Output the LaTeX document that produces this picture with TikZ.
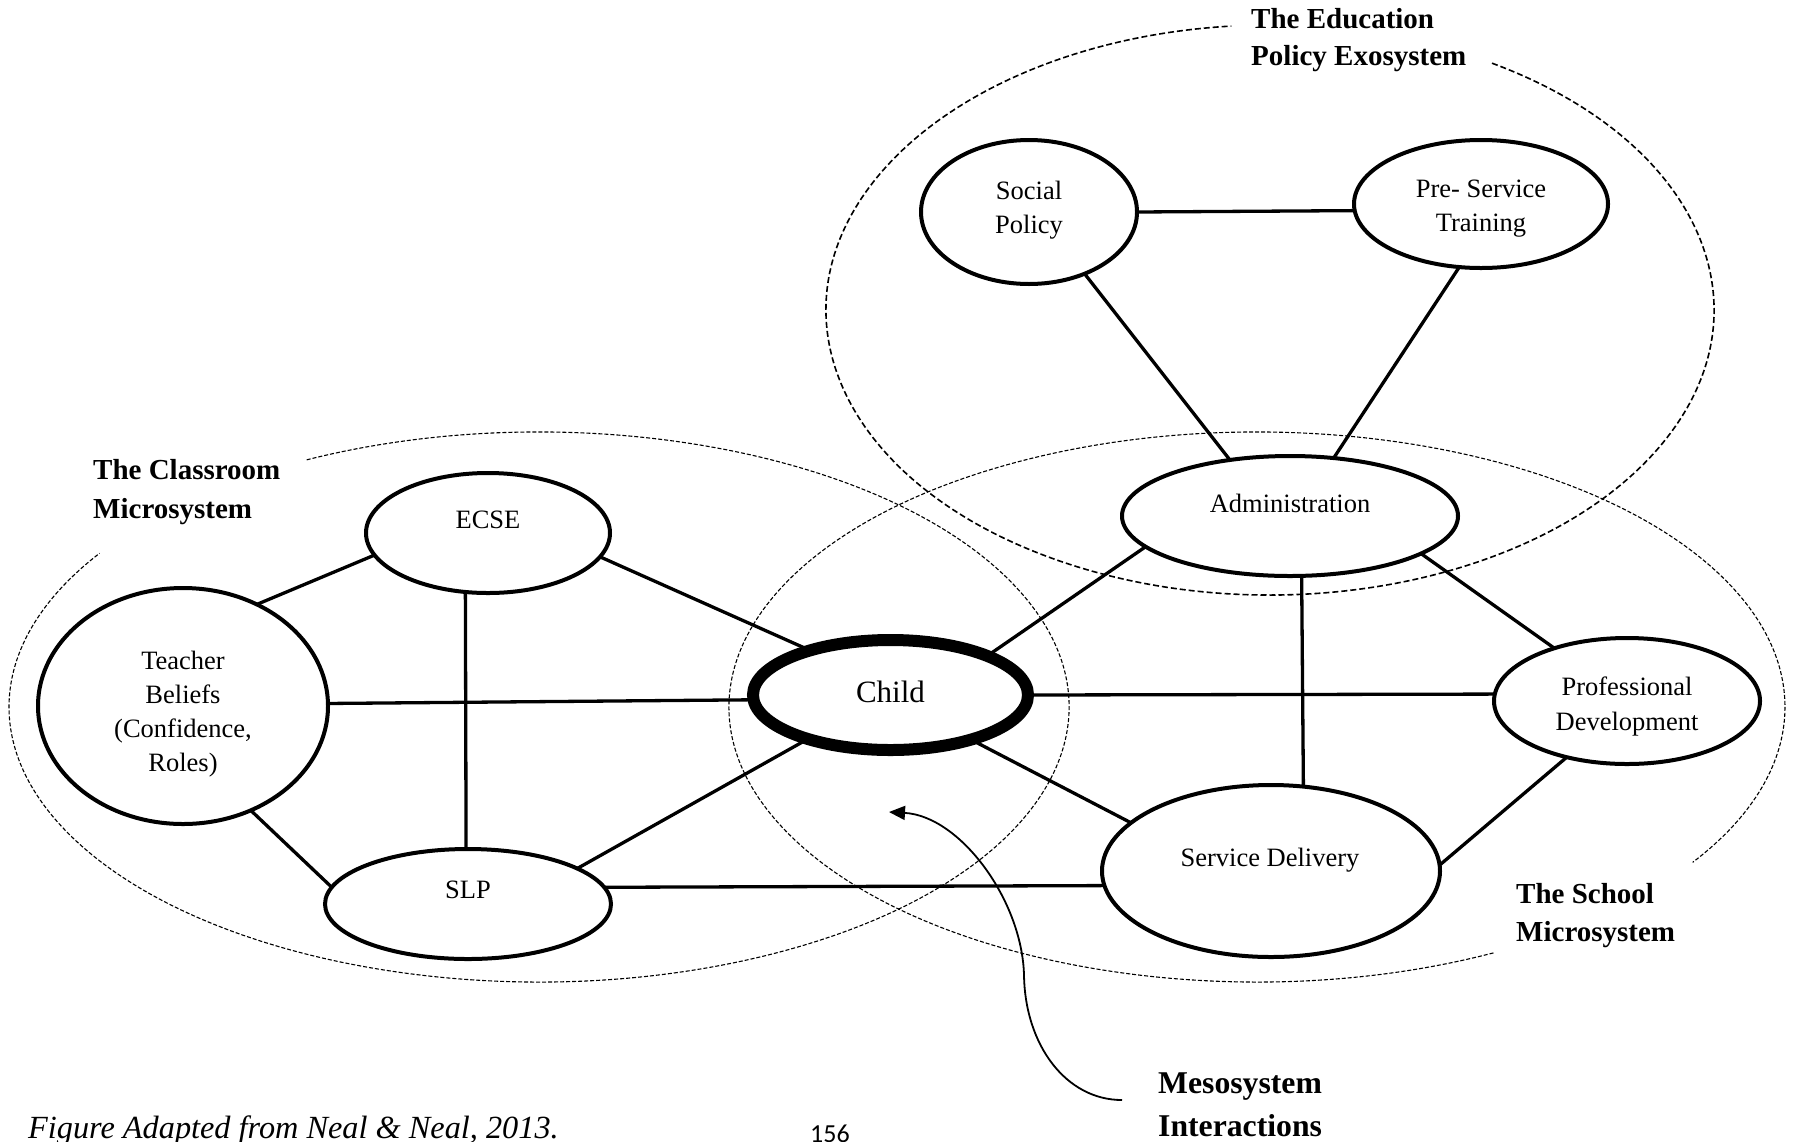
\documentclass[tikz,border=0pt]{standalone}
\usepackage{fontspec}
\setmainfont{Liberation Serif}
\newfontfamily\pagenumfont{Carlito}
\usetikzlibrary{shapes.geometric,arrows.meta}

\begin{document}
\begin{tikzpicture}[x=1pt,y=-1pt,
  bubble/.style={draw, ellipse, line width=4pt, inner sep=0pt, outer sep=0pt},
  core/.style={bubble, line width=12pt},
  link/.style={line width=3.3pt},
  lbl/.style={font=\fontsize{26.5}{34}\selectfont, align=center, anchor=base, inner sep=0pt},
  syslbl/.style={font=\bfseries\fontsize{29}{38}\selectfont, align=left, anchor=base west, inner sep=0pt},
  exo/.style={line width=1.6pt, dash pattern=on 6pt off 3pt},
  micro/.style={line width=1.1pt, dash pattern=on 4pt off 2pt},
]
\useasboundingbox (0,0) rectangle (1795,1141);

% system boundaries (dashed), each left open where its title sits
\draw[exo] (1270,310) ++(-60:444 and 285)
  arc[start angle=-60, end angle=265, x radius=444, y radius=285];
\draw[micro] (539,707) ++(-116:530 and 275)
  arc[start angle=-116, end angle=214, x radius=530, y radius=275];
\draw[micro] (1257,707) ++(63.4:528 and 275)
  arc[start angle=63.4, end angle=394.4, x radius=528, y radius=275];

% actors
\node[bubble, minimum width=216pt, minimum height=144pt] (sp) at (1029,212) {};
\node[bubble, minimum width=254pt, minimum height=128pt] (ps) at (1481,204) {};
\node[bubble, minimum width=336pt, minimum height=120pt] (ad) at (1290,516) {};
\node[bubble, minimum width=244pt, minimum height=120pt] (ec) at (488,533) {};
\node[bubble, minimum width=290pt, minimum height=236pt] (tb) at (183,706) {};
\node[core,   minimum width=275pt, minimum height=110pt] (ch) at (890.5,695) {};
\node[bubble, minimum width=266pt, minimum height=126pt] (pd) at (1627,701) {};
\node[bubble, minimum width=338pt, minimum height=172pt] (sd) at (1271,871) {};
\node[bubble, minimum width=286pt, minimum height=110pt] (sl) at (468,904) {};

% actor names (base anchor = baseline of the last line)
\node[lbl] (sp-t) at (1029,233) {Social\\Policy};
\node[lbl] (ps-t) at (1481,231) {Pre- Service\\Training};
\node[lbl] (ad-t) at (1290,512) {Administration};
\node[lbl] (ec-t) at (488,528) {ECSE};
\node[lbl] (tb-t) at (183,771) {Teacher\\Beliefs\\(Confidence,\\Roles)};
\node[lbl, font=\fontsize{31}{36}\selectfont] (ch-t) at (890.5,702) {Child};
\node[lbl, font=\fontsize{26.5}{35}\selectfont] (pd-t) at (1627,730) {Professional\\Development};
\node[lbl] (sd-t) at (1270,866) {Service Delivery};
\node[lbl] (sl-t) at (468,898) {SLP};

% links between actors
\draw[link] (sp.0) -- (ps.183.6);
\draw[link] (sp.312.8) -- (ad.137.2);
\draw[link] (ps.251.3) -- (ad.53.3);
\draw[link] (ad.192.9) -- (ch.22.8);
\draw[link] (ad.281.9) -- (sd.69.3);
\draw[link] (ad.344.3) -- (pd.144.5);
\draw[link] (ec.191.1) -- (tb.54.8);
\draw[link] (ec.348.7) -- (ch.151.1);
\draw[link] (ec.249.9) -- (sl.92.4);
\draw[link] (tb.1.4) -- (ch.182.8);
\draw[link] (tb.303.7) -- (sl.173);
\draw[link] (sl.18.4) -- (ch.208.1);
\draw[link] (sl.7.3) -- (sd.185);
\draw[link] (ch.0) -- (pd.177.5);
\draw[link] (ch.331.4) -- (sd.161.4);
\draw[link] (pd.223.5) -- (sd.2.3);

% system titles
\node[syslbl, font=\bfseries\fontsize{29}{37}\selectfont] (exo-t) at (1251,65) {The Education\\Policy Exosystem};
\node[syslbl, font=\bfseries\fontsize{29}{39}\selectfont] (cls-t) at (93,518) {The Classroom\\Microsystem};
\node[syslbl] (sch-t) at (1516,941) {The School\\Microsystem};
\node[syslbl, font=\bfseries\fontsize{31.7}{43}\selectfont] (meso-t) at (1158,1136) {Mesosystem\\Interactions};

% pointer from the mesosystem title into the overlap
\coordinate (mesotail) at (1122,1100);
\coordinate (mesotip) at (889,812);
\draw[line width=1.8pt, -{Triangle[length=16pt,width=14pt]}]
  (mesotail) .. controls (1066,1100) and (1025,1045) .. (1024,975)
  .. controls (1022,900) and (960,816) .. (mesotip);

% footer
\node[anchor=base west, inner sep=0pt, font=\itshape\fontsize{32.3}{38}\selectfont] (src) at (28,1138) {Figure Adapted from Neal \& Neal, 2013.};
\node[anchor=base, inner sep=0pt, font=\pagenumfont\fontsize{26}{30}\selectfont] (pg) at (830,1142) {156};
\end{tikzpicture}
\end{document}
